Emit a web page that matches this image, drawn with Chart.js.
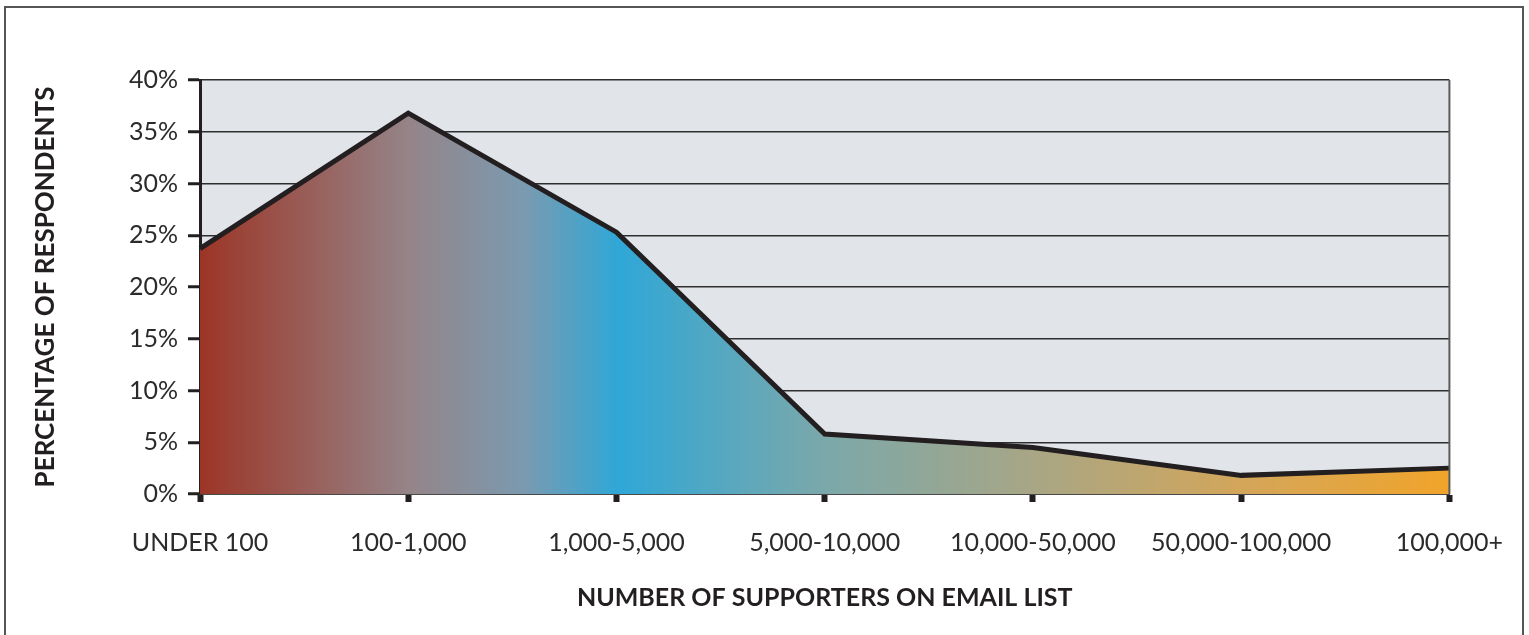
<!DOCTYPE html>
<html>
<head>
<meta charset="utf-8">
<script src="https://cdn.jsdelivr.net/npm/chart.js@4/dist/chart.umd.min.js"></script>
<style>
  html, body { margin: 0; padding: 0; background: #fff; }
  #wrap { width: 1529px; height: 635px; position: relative; }
</style>
</head>
<body>
<div id="wrap"><canvas id="emailChart"></canvas></div>
<script>
const categories = ['UNDER 100', '100-1,000', '1,000-5,000', '5,000-10,000', '10,000-50,000', '50,000-100,000', '100,000+'];
const respondentPct = [23.7, 36.8, 25.3, 5.8, 4.5, 1.8, 2.5];
const yTicks = [0, 5, 10, 15, 20, 25, 30, 35, 40];

const FONT = 'Lato, "Open Sans", sans-serif';

// plot background, right edge and outer frame
const framePlugin = {
    id: 'frame',
    beforeDraw(chart) {
        const { ctx, chartArea: a } = chart;
        ctx.save();
        ctx.fillStyle = '#e1e5ea';
        ctx.fillRect(a.left, a.top, a.right - a.left, a.bottom - a.top);
        ctx.restore();
    },
    afterDraw(chart) {
        const { ctx, chartArea: a } = chart;
        ctx.save();
        ctx.strokeStyle = '#5a5a5a';
        ctx.lineWidth = 2;
        ctx.beginPath();
        ctx.moveTo(a.right, a.top);
        ctx.lineTo(a.right, a.bottom);
        ctx.stroke();
        ctx.strokeStyle = '#555';
        ctx.lineWidth = 2;
        ctx.strokeRect(5, 7, 1518, 700);
        ctx.restore();
    }
};

function areaGradient(context) {
    const chart = context.chart;
    const a = chart.chartArea;
    if (!a) return '#2fa6d6';
    const g = chart.ctx.createLinearGradient(a.left, 0, a.right, 0);
    g.addColorStop(0, '#9c3526');
    g.addColorStop(0.167, '#958488');
    g.addColorStop(0.26, '#7a9ab0');
    g.addColorStop(0.335, '#2fa7d7');
    g.addColorStop(0.5, '#7ba8aa');
    g.addColorStop(0.667, '#a8a685');
    g.addColorStop(0.833, '#d3a65a');
    g.addColorStop(1, '#f1a42a');
    return g;
}

const ctx = document.getElementById('emailChart').getContext('2d');

const chart = new Chart(ctx, {
    type: 'line',
    data: {
        labels: categories,
        datasets: [{
            data: respondentPct,
            borderColor: '#231f20',
            borderWidth: 5,
            borderJoinStyle: 'miter',
            backgroundColor: areaGradient,
            fill: 'origin',
            tension: 0,
            pointRadius: 0
        }]
    },
    options: {
        responsive: true,
        maintainAspectRatio: false,
        animation: false,
        layout: {
            padding: { top: 80, right: 79, left: 0, bottom: 0 }
        },
        plugins: {
            legend: { display: false },
            tooltip: { enabled: false }
        },
        scales: {
            x: {
                offset: false,
                afterFit: function(scale) { scale.height = 141; },
                grid: {
                    display: true,
                    drawOnChartArea: false,
                    drawTicks: true,
                    tickLength: 8,
                    tickWidth: 6,
                    tickColor: '#231f20'
                },
                border: { display: true, color: '#4a4a4a', width: 2 },
                ticks: {
                    color: '#2b2b2b',
                    padding: 26,
                    maxRotation: 0,
                    autoSkip: false,
                    font: { family: FONT, size: 25 }
                },
                title: {
                    display: true,
                    text: 'NUMBER OF SUPPORTERS ON EMAIL LIST',
                    color: '#231f20',
                    font: { family: FONT, size: 25, weight: 'bold' },
                    padding: { top: 0, bottom: 22 }
                }
            },
            y: {
                min: 0,
                max: 40,
                afterFit: function(scale) { scale.width = 200; },
                afterBuildTicks: function(scale) {
                    scale.ticks = yTicks.map(v => ({ value: v }));
                },
                grid: {
                    color: '#2e2e2e',
                    lineWidth: 1.5,
                    drawTicks: true,
                    tickLength: 12,
                    tickWidth: 3,
                    tickColor: '#231f20'
                },
                border: { display: true, color: '#231f20', width: 3 },
                ticks: {
                    color: '#2b2b2b',
                    padding: 10,
                    font: { family: FONT, size: 25 },
                    callback: v => v + '%'
                },
                title: {
                    display: true,
                    text: 'PERCENTAGE OF RESPONDENTS',
                    color: '#231f20',
                    font: { family: FONT, size: 26, weight: 'bold' },
                    padding: { top: 30, bottom: 0 }
                }
            }
        }
    },
    plugins: [framePlugin]
});
</script>
</body>
</html>
